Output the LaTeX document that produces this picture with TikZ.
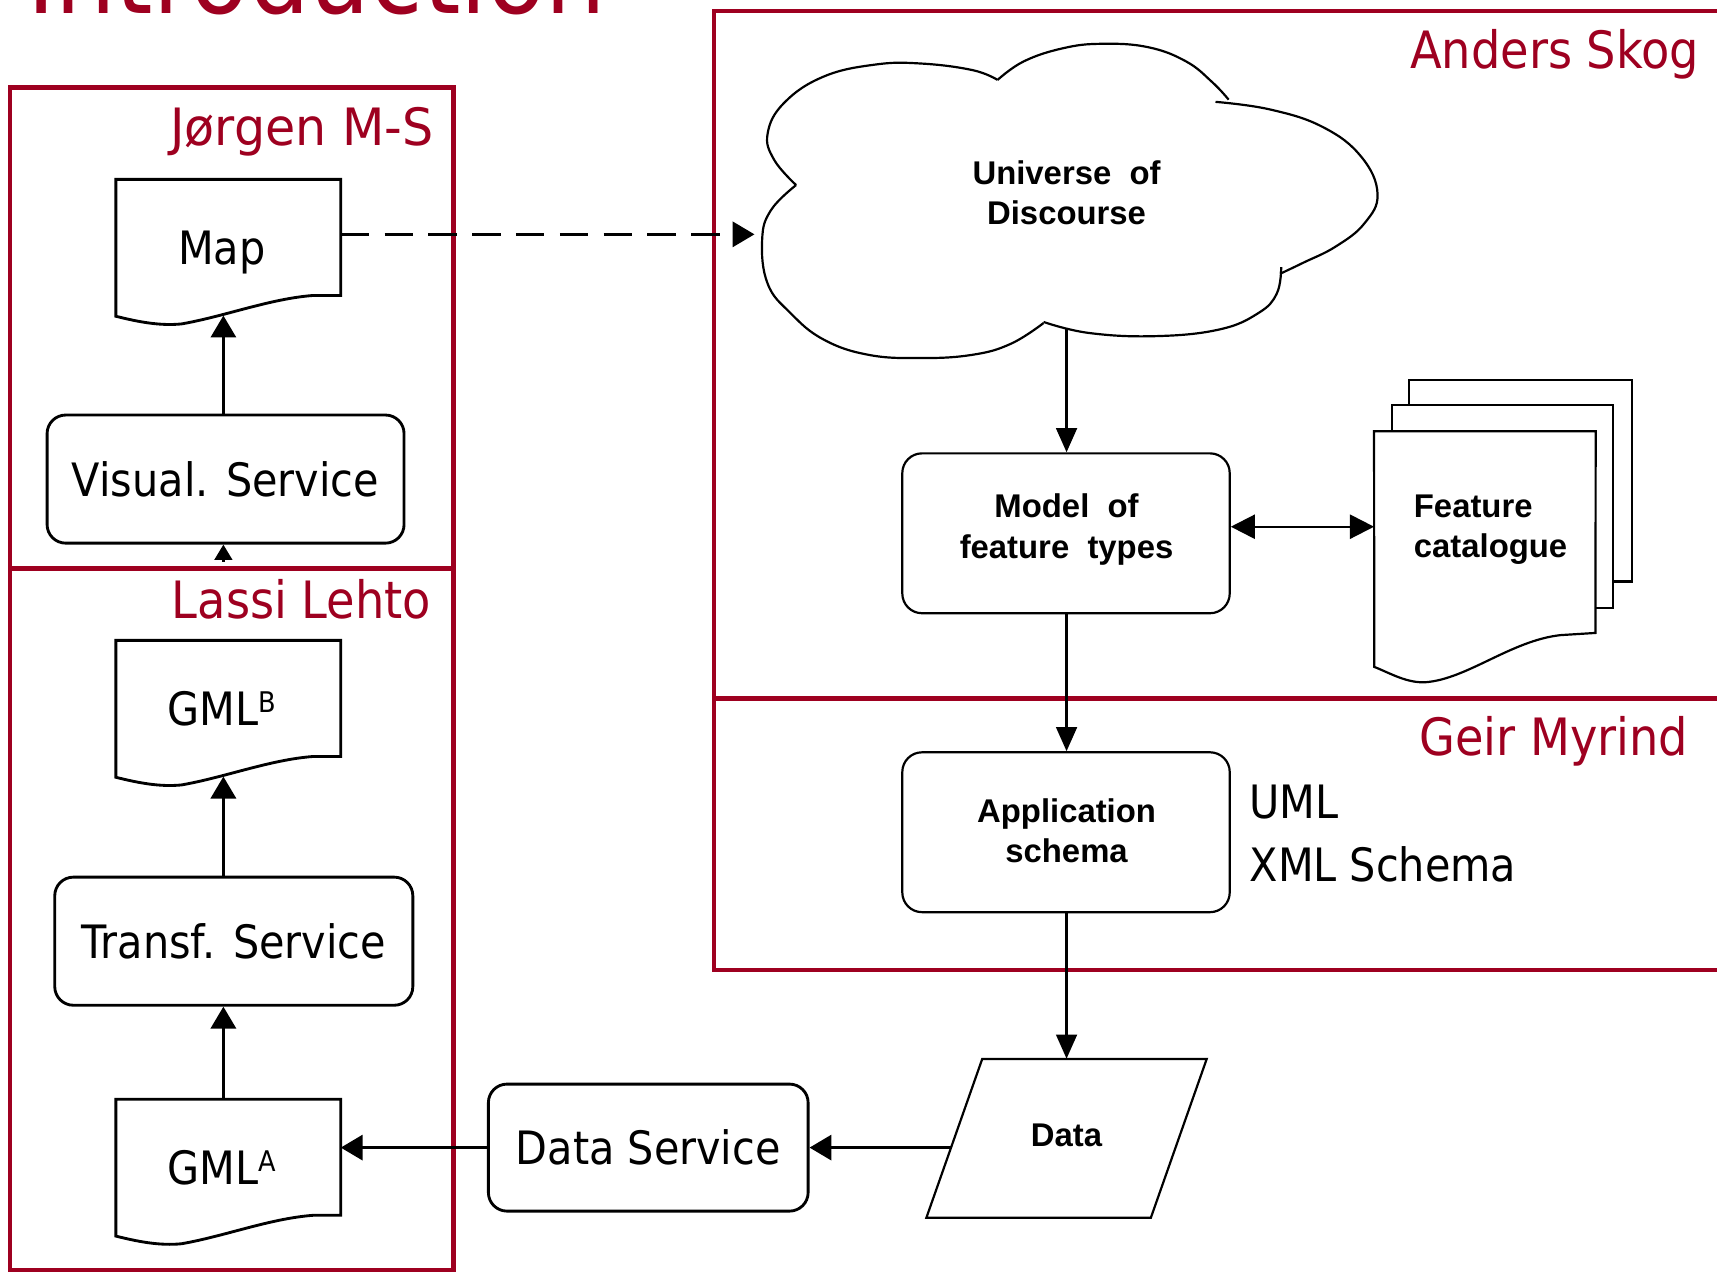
\documentclass[tikz,border=0pt]{standalone}
\usepackage{fontspec}
\usetikzlibrary{arrows.meta}
\newfontfamily\tahfont[FakeStretch=0.9]{DejaVu Sans}
\newfontfamily\arifont{Liberation Sans}
\definecolor{dred}{RGB}{158,0,32}
\newcommand\ltfont{\tahfont\fontsize{42}{48}\selectfont}
\newcommand\supB[1]{\raisebox{11.5pt}{\fontsize{26}{26}\selectfont #1}}
\newcommand\docshape[1]{%
  \draw[docline] (#1.north west) -- (#1.north east)
    -- ([yshift=-106pt]#1.north east)
    -- ([shift={(-25pt,-106pt)}]#1.north east)
    .. controls ([shift={(-65pt,-109pt)}]#1.north east) and ([shift={(100pt,-125pt)}]#1.north west)
    .. ([shift={(60pt,-132pt)}]#1.north west)
    .. controls ([shift={(40pt,-134pt)}]#1.north west) and ([shift={(20pt,-130pt)}]#1.north west)
    .. ([yshift=-125pt]#1.north west) -- cycle;}
\begin{document}
\begin{tikzpicture}[x=1pt,y=-1pt,
  redbox/.style={draw=dred, line width=4pt},
  redlabel/.style={text=dred, font=\tahfont\fontsize{47}{52}\selectfont, inner sep=0pt},
  ltext/.style={font=\ltfont, inner sep=0pt},
  svcbox/.style={draw, line width=2.6pt, rounded corners=17pt, minimum height=117pt, inner sep=0pt, font=\ltfont},
  docnode/.style={minimum width=205pt, minimum height=124pt, inner sep=0pt, font=\ltfont, text height=30.6pt, text depth=0pt},
  docline/.style={line width=2.6pt},
  larrow/.style={line width=2.6pt, -{Triangle[length=20pt,width=23pt]}},
  sline/.style={line width=2pt},
  sarrow/.style={line width=2pt, -{Triangle[length=22pt,width=19pt]}},
  sbox/.style={draw, line width=2pt, rounded corners=18pt, minimum width=299pt, minimum height=146pt, inner sep=0pt},
  stext/.style={font=\arifont\bfseries\fontsize{30}{37}\selectfont, align=center, inner sep=0pt},
]
\clip (0,0) rectangle (1568,1163);
\fill[white] (0,0) rectangle (1568,1163);

% title (cut off at the top, as in the reference)
\node[text=dred, font=\tahfont\fontsize{97}{100}\selectfont, inner sep=0pt, anchor=base west] (title) at (24.5,12) {Introduction};

% red frames
\draw[redbox] (9,80) rectangle (414,519);
\draw[redbox] (9,519) rectangle (414,1160);
\draw[redbox] (652,10) rectangle (1620,638);
\draw[redbox] (652,638) rectangle (1620,886);

\node[redlabel, anchor=base east] (jorg) at (396,133) {\scalebox{1.06}[1]{Jørgen M-S}};
\node[redlabel, anchor=base east] (lassi) at (394,565) {Lassi Lehto};
\node[redlabel, anchor=base east] (anders) at (1552,63) {Anders Skog};
\node[redlabel, anchor=base east] (geir) at (1542,690) {Geir Myrind};

% left column
\coordinate (colx) at (204,0);
\node[docnode] (map) at (208.5,226) {Map\kern12pt};
\docshape{map}
\node[svcbox, minimum width=326pt] (vis) at (206,437.5) {Visual. Service};
\node[docnode] (gmlb) at (208.5,647) {GML\supB{B}\kern12pt};
\docshape{gmlb}
\node[svcbox, minimum width=327pt] (tra) at (213.5,859.5) {Transf. Service};
\node[docnode] (gmla) at (208.5,1066) {GML\supB{A}\kern12pt};
\docshape{gmla}
\node[svcbox, minimum width=292pt, minimum height=116pt] (ds) at (592,1048) {Data Service};

\draw[larrow] (vis.north -| colx) -- (map.south -| colx);
\coordinate (gtop) at (204,513);
\draw[line width=2.6pt, -{Triangle[length=14pt,width=16pt]}] (gtop) -- (vis.south -| colx);
\draw[larrow] (tra.north -| colx) -- (gmlb.south -| colx);
\draw[larrow] (gmla.north -| colx) -- (tra.south -| colx);
\draw[larrow] (ds.west) -- (ds.west -| gmla.east);

% cloud
\draw[sline] plot[smooth, tension=0.7] coordinates {(727,169) (707,146) (701,122) (716,94) (752,70) (799,59) (841,58) (888,64) (911,73)};
\draw[sline] plot[smooth, tension=0.7] coordinates {(911,73) (935,56) (971,44) (1006,40) (1048,43) (1083,56) (1107,75) (1122,91)};
\draw[sline] plot[smooth, tension=0.7] coordinates {(1110,93) (1160,100) (1208,116) (1243,143) (1258,177) (1246,204) (1220,225) (1190,240) (1169,250)};
\draw[sline] plot[smooth, tension=0.7] coordinates {(1170,244) (1166,268) (1149,286) (1113,301) (1054,307) (994,304) (953,294)};
\draw[sline] plot[smooth, tension=0.7] coordinates {(953,295) (923,314) (888,324) (841,327) (793,324) (752,310) (722,286) (701,259) (696,219) (704,192) (727,169)};
\node[stext] (udtext) at (974,176) {Universe\ \ of\\Discourse};
\coordinate (cloudL) at (689,214);
\coordinate (cloudB) at (974,300);

\draw[larrow, dash pattern=on 26pt off 14pt] (map.east |- cloudL) -- (cloudL);

% model, application schema
\node[sbox] (model) at (973.5,487) {};
\node[stext] (modtext) at (974,483.5) {Model\ \ of\\feature\ \ types};
\node[sbox] (app) at (973.5,760) {};
\node[stext] (apptext) at (974,758.5) {Application\\schema};

% feature catalogue
\draw[sline, fill=white] (1287,347) rectangle (1490,531);
\draw[sline, fill=white] (1271,370) rectangle (1473,555);
\node[minimum width=202pt, minimum height=184pt, inner sep=0pt] (cat) at (1356,486) {};
\draw[sline, fill=white] (cat.north west) -- (cat.north east) -- (1457,578) -- (1425,580)
   .. controls (1380,585) and (1340,620) .. (1302,623)
   .. controls (1285,624) and (1270,615) .. (1255,609) -- cycle;
\node[stext, align=left, anchor=west] (cattext) at (1291,483.5) {Feature\\catalogue};

% data
\node[minimum width=150pt, minimum height=145pt, inner sep=0pt] (data) at (974,1039.5) {};
\draw[sline] (897,967) -- (1102,967) -- (1051,1112) -- (846,1112) -- cycle;
\node[stext] (datatext) at (974,1037) {Data};
\coordinate (dataL) at (868.5,1048);

% UML / XML Schema
\node[ltext, anchor=base west] (uml) at (1141,747) {UML};
\node[ltext, anchor=base west] (xml) at (1141,805) {XML Schema};

% right-side connectors
\coordinate (dbly) at (0,481);
\draw[sarrow] (cloudB) -- (model.north -| cloudB);
\draw[sarrow] (model.south -| cloudB) -- (app.north -| cloudB);
\draw[sarrow] (app.south -| cloudB) -- (data.north -| cloudB);
\draw[line width=2pt, {Triangle[length=22pt,width=22pt]}-{Triangle[length=22pt,width=22pt]}] (model.east |- dbly) -- (cat.west |- dbly);
\draw[larrow] (dataL) -- (ds.east);
\end{tikzpicture}
\end{document}
